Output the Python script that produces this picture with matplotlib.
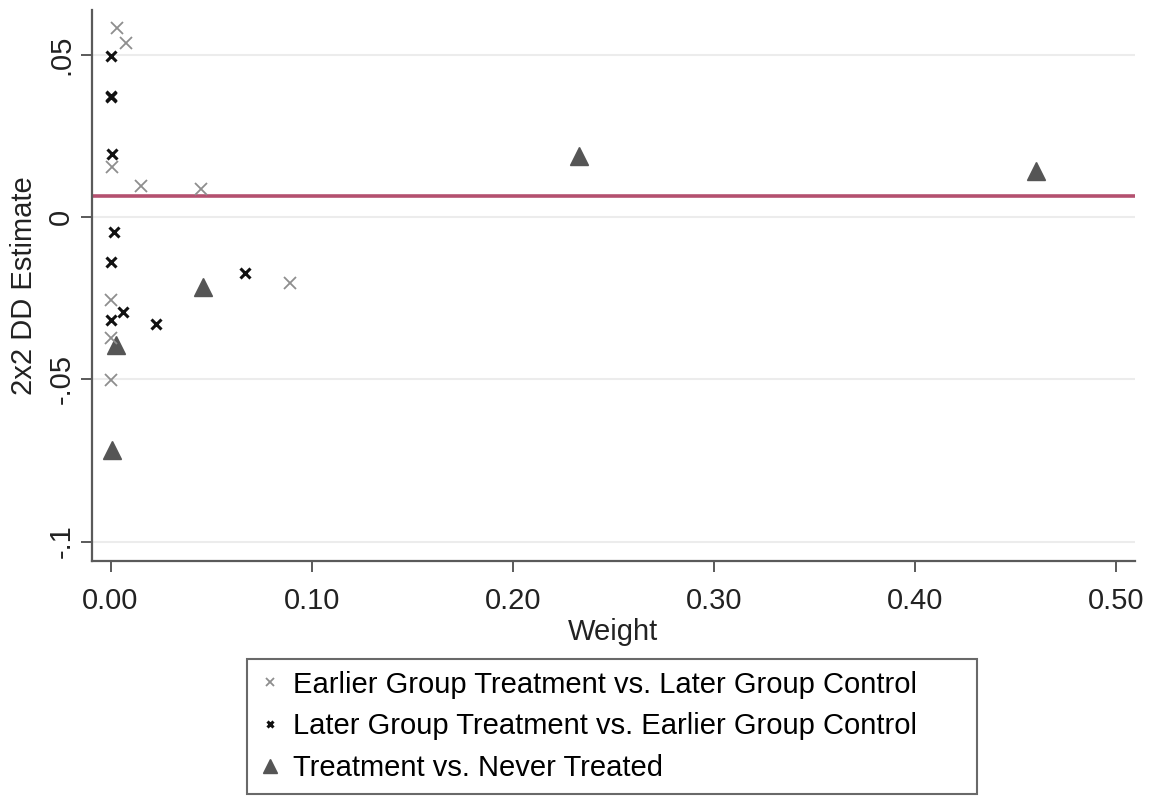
import matplotlib
matplotlib.use("Agg")
import matplotlib.pyplot as plt

plt.rcParams['font.family'] = ['Liberation Sans', 'DejaVu Sans']

# Earlier Group Treatment vs. Later Group Control
early_w = [0.0034, 0.0076, 0.0006, 0.0152, 0.0448, 0.0001, 0.0001, 0.0001, 0.0892]
early_est = [0.0582, 0.0535, 0.0155, 0.0096, 0.0086, -0.0256, -0.0374, -0.0502, -0.0202]

# Later Group Treatment vs. Earlier Group Control
later_w = [0.0000, 0.0001, 0.0003, 0.0006, 0.0019, 0.0001, 0.0064, 0.0001, 0.0225, 0.0668]
later_est = [0.0496, 0.0374, 0.0371, 0.0194, -0.0047, -0.0140, -0.0292, -0.0317, -0.0331, -0.0172]

# Treatment vs. Never Treated
never_w = [0.0027, 0.0006, 0.0458, 0.233, 0.460]
never_est = [-0.0394, -0.0718, -0.0215, 0.0187, 0.0142]

dd_overall = 0.0065

x_ticks = [0.0, 0.1, 0.2, 0.3, 0.4, 0.5]
x_ticklabels = ['0.00', '0.10', '0.20', '0.30', '0.40', '0.50']
y_ticks = [0.05, 0.0, -0.05, -0.1]
y_ticklabels = ['.05', '0', '-.05', '-.1']

fig = plt.figure(figsize=(11.55, 7.96), dpi=100)
ax = fig.add_axes([92 / 1155, 1 - 561 / 796, (1135 - 92) / 1155, (561 - 10) / 796])

for y in y_ticks:
    ax.axhline(y, color='#ececec', lw=1.5, zorder=0)

ax.axhline(dd_overall, color='#b4506f', lw=2.6, zorder=1)

ax.plot(early_w, early_est, 'x', color='#8e8e8e', ms=8, mew=1.3, ls='none', zorder=3,
        label='Earlier Group Treatment vs. Later Group Control')
ax.plot(later_w, later_est, 'x', color='#111111', ms=6.5, mew=2.2, ls='none', zorder=3,
        label='Later Group Treatment vs. Earlier Group Control')
ax.plot(never_w, never_est, '^', color='#555555', ms=13, ls='none', zorder=2,
        label='Treatment vs. Never Treated')

ax.set_xlim(-0.0092, 0.5092)
ax.set_ylim(-0.106, 0.0638)
ax.set_xticks(x_ticks)
ax.set_xticklabels(x_ticklabels)
ax.set_yticks(y_ticks)
ax.set_yticklabels(y_ticklabels, rotation=90, va='center')

for s in ['top', 'right']:
    ax.spines[s].set_visible(False)
for s in ['left', 'bottom']:
    ax.spines[s].set_color('#5a5a5a')
    ax.spines[s].set_linewidth(1.6)

ax.tick_params(axis='both', colors='#5a5a5a', labelcolor='#222222', labelsize=21,
               length=8, width=1.4)
ax.tick_params(axis='x', pad=11)
ax.tick_params(axis='y', pad=4)

ax.set_xlabel('Weight', fontsize=21, color='#222222', labelpad=2)
ax.set_ylabel('2x2 DD Estimate', fontsize=21, color='#222222', labelpad=7)

leg = fig.legend(loc='upper left', bbox_to_anchor=(247 / 1155, 1 - 795 / 796, 730 / 1155, 136 / 796),
                 mode='expand', borderaxespad=0, fontsize=21, frameon=True, fancybox=False,
                 markerscale=0.75, handlelength=0.75, handletextpad=0.42, labelspacing=0.47,
                 borderpad=0.4)
leg.get_frame().set_edgecolor('#444444')
leg.get_frame().set_linewidth(1.5)

fig.savefig('out.png', dpi=100)
